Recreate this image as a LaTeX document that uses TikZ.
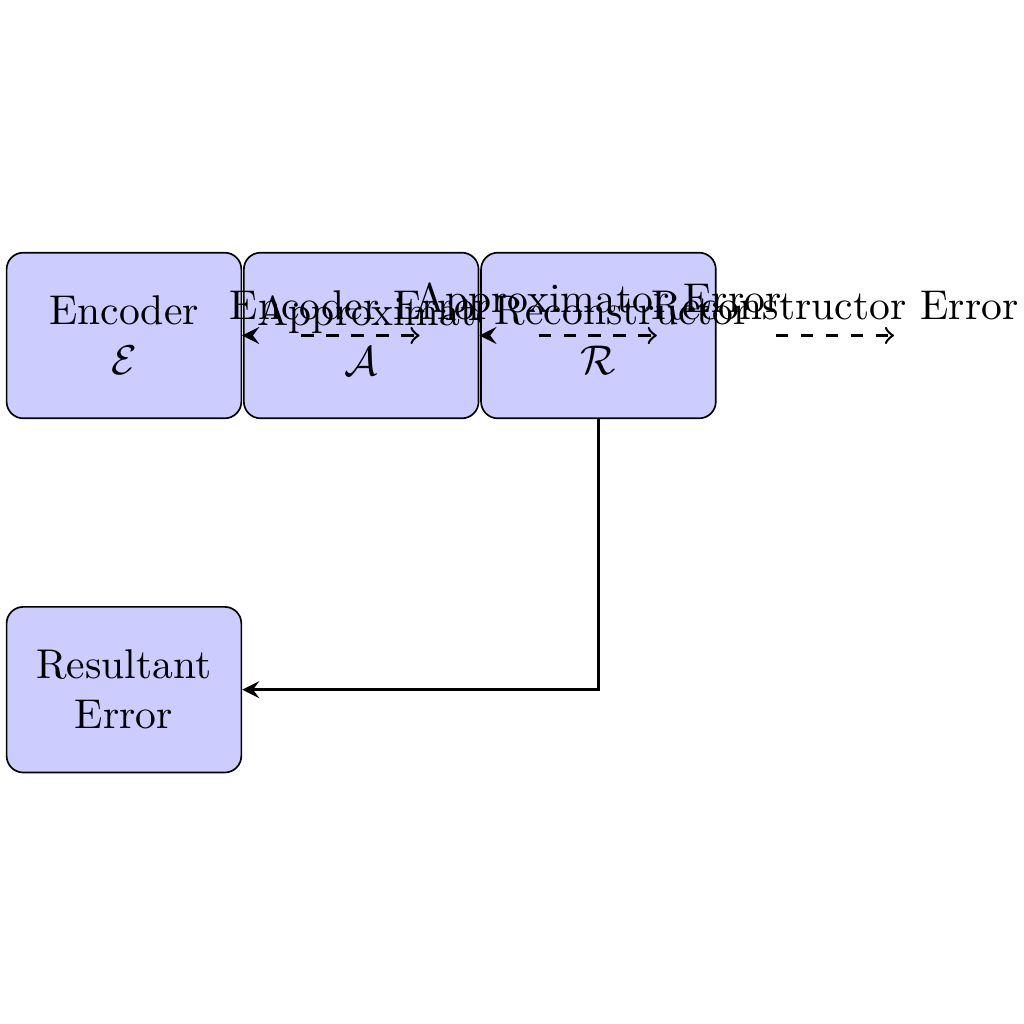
\documentclass[tikz,border=0pt]{standalone}
\usepackage{amsmath}
\usepackage{amssymb}
\usepackage{tikz}
\usetikzlibrary{arrows,positioning}
\tikzstyle{block} = [draw, fill=blue!20, rounded corners, text width=1.75cm, minimum height=1.4cm, align=center]
\tikzstyle{flow} = [thick,->,>=stealth]
\tikzstyle{errflow} = [semithick,dashed,->]

\begin{document}
\begin{tikzpicture}
    % Frame
    \useasboundingbox (-1.048,-5.820) rectangle (7.608,2.836);

    % Blocks
    \node[block] (enc) {Encoder\\$\mathcal{E}$};
    \node[block, right=0.2pt of enc] (app) {Approximator\\$\mathcal{A}$};
    \node[block, right=0.2pt of app] (rec) {Reconstructor\\$\mathcal{R}$};
    \node[block, below=1.58cm of enc] (res) {Resultant\\Error};

    % Flow
    \draw[flow] (app.west) -- (enc.east);
    \draw[flow] (rec.west) -- (app.east);
    \draw[flow] (rec) |- (res);

    % Error signals
    \coordinate (encA) at ([xshift=0.5cm]enc.east);
    \coordinate (encB) at ([xshift=1.5cm]enc.east);
    \coordinate (appA) at ([xshift=0.5cm]app.east);
    \coordinate (appB) at ([xshift=1.5cm]app.east);
    \coordinate (recA) at ([xshift=0.5cm]rec.east);
    \coordinate (recB) at ([xshift=1.5cm]rec.east);
    \draw[errflow] (encA) -- node[above] {Encoder Error} (encB);
    \draw[errflow] (appA) -- node[above] {Approximator Error} (appB);
    \draw[errflow] (recA) -- node[above] {Reconstructor Error} (recB);
\end{tikzpicture}
\end{document}
